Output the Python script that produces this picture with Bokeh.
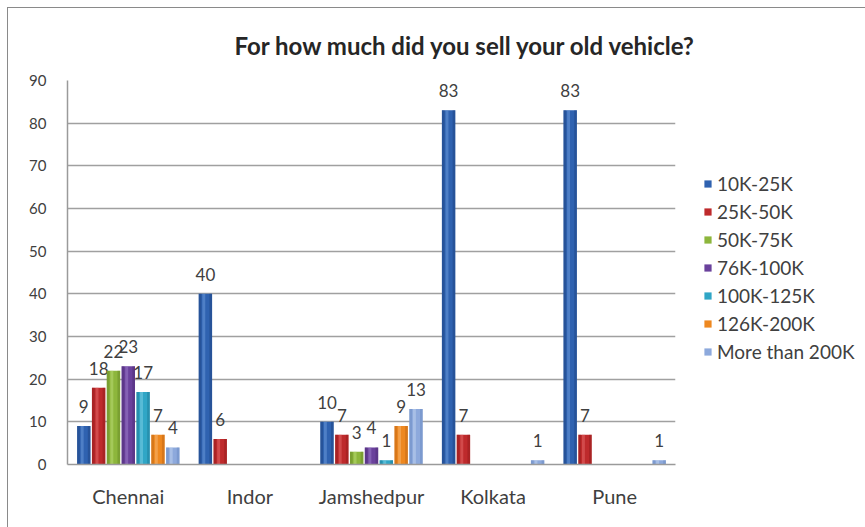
from bokeh.plotting import figure
from bokeh.models import (ColumnDataSource, FactorRange, Range1d, FixedTicker,
                          Legend, LegendItem)
from bokeh.transform import dodge
from bokeh.core.properties import value
from bokeh.embed import file_html
from bokeh.resources import INLINE

cities = ["Chennai", "Indor", "Jamshedpur", "Kolkata", "Pune"]
series = ["10K-25K", "25K-50K", "50K-75K", "76K-100K", "100K-125K",
          "126K-200K", "More than 200K"]
v_10_25 = [9, 40, 10, 83, 83]
v_25_50 = [18, 6, 7, 7, 7]
v_50_75 = [22, 0, 3, 0, 0]
v_76_100 = [23, 0, 4, 0, 0]
v_100_125 = [17, 0, 1, 0, 0]
v_126_200 = [7, 0, 9, 0, 0]
v_200_plus = [4, 0, 13, 1, 1]
values = [v_10_25, v_25_50, v_50_75, v_76_100, v_100_125, v_126_200, v_200_plus]
y_ticks = [0, 10, 20, 30, 40, 50, 60, 70, 80, 90]

colors = ["#2F62B0", "#BE2A2C", "#8DB63C", "#6A419C", "#30A6C6", "#EE8820", "#8DA9DC"]
lights = ["#6E9BDB", "#E66A6A", "#BCDB78", "#9E7FCB", "#7FD0E6", "#F8B874", "#C4D5F0"]
darks = ["#1C3F78", "#8A1A1A", "#5E7D22", "#48296E", "#1C7189", "#B35E12", "#6384BC"]

FONT = "Lato"
TXT = "#404040"

p = figure(x_range=FactorRange(factors=cities), y_range=Range1d(0, 90),
           frame_width=608, frame_height=384,
           min_border_left=59, min_border_right=190,
           min_border_top=72, min_border_bottom=63,
           output_backend="svg", toolbar_location=None,
           title="For how much did you sell your old vehicle?")
p.styles = {"border-left": "1px solid #8a8a8a", "border-top": "1px solid #8a8a8a",
            "margin-left": "7px", "margin-top": "7px"}

p.title.text_font = FONT
p.title.text_font_size = "24px"
p.title.text_font_style = "bold"
p.title.text_color = "#262626"
p.title.align = "left"
p.title.offset = 167
p.title.standoff = 41

bw = 0.11
step = 0.122
items = []
for i, (name, vals) in enumerate(zip(series, values)):
    off = (i - 3) * step
    src = ColumnDataSource(dict(city=cities, v=vals))
    r = p.vbar(x=dodge("city", off, range=p.x_range), top="v", width=bw,
               source=src, fill_color=colors[i], line_color=None)
    # cylinder shading
    p.vbar(x=dodge("city", off - bw * 0.40, range=p.x_range), top="v", width=bw * 0.2,
           source=src, fill_color=darks[i], fill_alpha=0.4, line_color=None)
    p.vbar(x=dodge("city", off + bw * 0.40, range=p.x_range), top="v", width=bw * 0.2,
           source=src, fill_color=darks[i], fill_alpha=0.4, line_color=None)
    p.vbar(x=dodge("city", off - bw * 0.12, range=p.x_range), top="v", width=bw * 0.22,
           source=src, fill_color=lights[i], fill_alpha=0.5, line_color=None)
    items.append(LegendItem(label=name, renderers=[r]))
    lab_c = [c for c, v in zip(cities, vals) if v > 0]
    lab_v = [v for v in vals if v > 0]
    lsrc = ColumnDataSource(dict(city=lab_c, v=lab_v, t=[str(v) for v in lab_v]))
    p.text(x=dodge("city", off, range=p.x_range), y="v", text="t", source=lsrc,
           text_align="center", text_baseline="bottom", y_offset=-13,
           text_font=value(FONT), text_font_size="17px", text_color=TXT)

legend = Legend(items=items, location=(28, 101))
legend.margin = 0
legend.padding = 10
legend.glyph_width = 9
legend.glyph_height = 9
legend.label_height = 23
legend.spacing = 5
legend.label_standoff = 5
legend.label_text_font = FONT
legend.label_text_font_size = "19px"
legend.label_text_color = TXT
legend.border_line_color = None
legend.background_fill_color = None
legend.background_fill_alpha = 0
p.add_layout(legend, "right")

p.yaxis.ticker = FixedTicker(ticks=y_ticks)
p.yaxis.major_label_text_font = FONT
p.yaxis.major_label_text_font_size = "15px"
p.yaxis.major_label_text_color = TXT
p.yaxis.major_label_standoff = 15
p.xaxis.major_label_text_font = FONT
p.xaxis.major_label_text_font_size = "20px"
p.xaxis.major_label_text_color = TXT
p.xaxis.major_label_standoff = 13
for ax in (p.xaxis, p.yaxis):
    ax.axis_line_color = "#9a9a9a"
    ax.axis_line_width = 1.5
    ax.major_tick_line_color = None
    ax.minor_tick_line_color = None
p.xgrid.grid_line_color = None
p.ygrid.grid_line_color = "#a0a0a0"
p.ygrid.grid_line_width = 1.5
p.outline_line_color = None
p.background_fill_color = "white"
p.border_fill_color = "white"

open("out.html", "w").write(file_html(p, INLINE))
